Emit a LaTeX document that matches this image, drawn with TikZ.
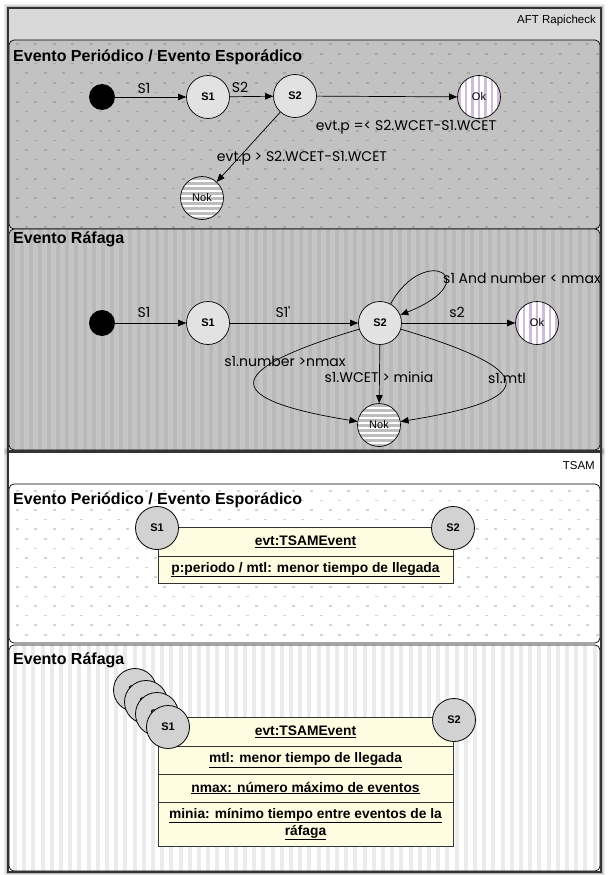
\documentclass[tikz,border=0pt]{standalone}
\usepackage{fontspec}
\setmainfont{Liberation Sans}
\newfontfamily\geofont{Poppins}
\usetikzlibrary{arrows.meta}

\definecolor{headgray}{HTML}{D9D9D9}
\definecolor{panelgray}{HTML}{C2C2C2}
\definecolor{dotdark}{HTML}{A6A6A6}
\definecolor{stripebase}{HTML}{C5C5C5}
\definecolor{stripedark}{HTML}{B9B9B9}
\definecolor{dotlight}{HTML}{D4D4D4}
\definecolor{stripelight}{HTML}{EBEBEB}
\definecolor{statefill}{HTML}{E2E2E2}
\definecolor{tsamfill}{HTML}{D2D2D2}
\definecolor{classfill}{HTML}{FEFDE2}
\definecolor{okstripe}{HTML}{CDBDD8}
\definecolor{nokstripe}{HTML}{BDBDBD}
\definecolor{framedark}{HTML}{333333}

\begin{document}
\begin{tikzpicture}[
  x=1pt, y=-1pt,
  state/.style={circle, draw=black, line width=0.7pt, fill=statefill,
    minimum size=43pt, inner sep=0pt, font=\bfseries\fontsize{11}{13}\selectfont},
  initdot/.style={circle, fill=black, minimum size=26pt, inner sep=0pt},
  endok/.style={state, fill=white, font=\fontsize{11}{13}\selectfont,
    path picture={\foreach \k in {-3,...,3}
      \fill[okstripe] ([xshift=\k*6.5pt-1.2pt]path picture bounding box.north)
        rectangle ([xshift=\k*6.5pt+1.2pt]path picture bounding box.south);}},
  endnok/.style={state, fill=white, font=\fontsize{11}{13}\selectfont,
    path picture={\foreach \k in {-5,...,5}
      \fill[nokstripe] ([yshift=\k*5pt-1.5pt]path picture bounding box.west)
        rectangle ([yshift=\k*5pt+1.5pt]path picture bounding box.east);}},
  trans/.style={draw=black, line width=0.7pt, -{Triangle[length=8pt,width=6.5pt]}},
  edgelbl/.style={inner sep=0pt, font=\geofont\fontsize{14}{16}\selectfont},
  paneltitle/.style={anchor=west, inner sep=0pt, font=\bfseries\fontsize{16}{19}\selectfont},
  bandlbl/.style={anchor=east, inner sep=0pt, font=\fontsize{11.5}{13}\selectfont},
  classrow/.style={draw=framedark, line width=0.8pt, fill=classfill, minimum width=295pt,
    inner sep=0pt, font=\bfseries\fontsize{13.8}{16}\selectfont, align=center},
  tsam/.style={circle, draw=black, line width=0.8pt, fill=tsamfill,
    minimum size=43pt, inner sep=0pt, font=\bfseries\fontsize{11}{13}\selectfont},
  panelbox/.style={draw=black, line width=0.7pt, rounded corners=5pt},
  framebox/.style={draw=framedark, line width=1.1pt}
]
\useasboundingbox (0,0) rectangle (609,875);
\fill[white] (0,0) rectangle (609,875);

% soft shadows of the two outer frames
\foreach \w in {1,...,5} {
  \draw[black, opacity=0.07, line width=\w*1.5pt] (8,8) rectangle (601,451);
  \draw[black, opacity=0.07, line width=\w*1.5pt] (8,452) rectangle (601,872);
}
\fill[headgray] (8,8) rectangle (601,451);
\fill[white] (8,452) rectangle (601,872);

% panel 1: grey with dotted grid
\begin{scope}
  \clip[rounded corners=5pt] (9,40) rectangle (600,229);
  \fill[panelgray] (9,40) rectangle (600,229);
  \foreach \r in {0,...,19} {
    \foreach \c in {0,...,32} {
      \fill[dotdark] ({16+18.4*\c+9.2*mod(\r,2)},{43.5+9.6*\r}) rectangle ++(3,1.6);
    }
  }
\end{scope}
\draw[panelbox] (9,40) rectangle (600,229);

% panel 2: grey with vertical stripes
\begin{scope}
  \clip[rounded corners=5pt] (9,229) rectangle (600,450);
  \fill[stripebase] (9,229) rectangle (600,450);
  \foreach \c in {0,...,66} {
    \fill[stripedark] ({11+9*\c},229) rectangle ++(4,222);
  }
\end{scope}
\draw[panelbox] (9,229) rectangle (600,450);

% panel 3: white with light dotted grid
\begin{scope}
  \clip[rounded corners=5pt] (9,484) rectangle (600,643);
  \fill[white] (9,484) rectangle (600,643);
  \foreach \r in {0,...,16} {
    \foreach \c in {0,...,32} {
      \fill[dotlight] ({16+18.4*\c+9.2*mod(\r,2)},{490+9.6*\r}) rectangle ++(3,1.6);
    }
  }
\end{scope}
\draw[panelbox] (9,484) rectangle (600,643);

% panel 4: white with light vertical stripes
\begin{scope}
  \clip[rounded corners=5pt] (9,645) rectangle (600,871);
  \fill[white] (9,645) rectangle (600,871);
  \foreach \c in {0,...,66} {
    \fill[stripelight] ({13+9.2*\c},645) rectangle ++(4,226);
  }
\end{scope}
\draw[panelbox] (9,645) rectangle (600,871);

% outer frames
\draw[framebox] (8,8) rectangle (601,451);
\draw[framebox] (8,452) rectangle (601,872);

% band and panel titles
\node[bandlbl] (aft) at (596,21) {AFT Rapicheck};
\node[bandlbl] (tsamlbl) at (595,466) {TSAM};
\node[paneltitle] (title1) at (13,57) {Evento Periódico / Evento Esporádico};
\node[paneltitle] (title2) at (13,239) {Evento Ráfaga};
\node[paneltitle] (title3) at (13,500) {Evento Periódico / Evento Esporádico};
\node[paneltitle] (title4) at (13,660) {Evento Ráfaga};

% periodic / sporadic state machine
\node[initdot] (init1) at (102,97) {};
\node[state] (s1a) at (208,97) {S1};
\node[state] (s2a) at (295,96) {S2};
\node[endok] (oka) at (479,97) {Ok};
\node[endnok] (noka) at (202,198) {Nok};
\draw[trans] (init1) -- (s1a);
\draw[trans] (s1a) -- (s2a);
\draw[trans] (s2a) -- (oka);
\draw[trans] (s2a) -- (noka);
\node[edgelbl] (la1) at (144,88) {S1};
\node[edgelbl] (la2) at (240,87) {S2};
\node[edgelbl] (la3) at (406,127) {evt.p =< S2.WCET-S1.WCET};
\node[edgelbl] (la4) at (302,158) {evt.p > S2.WCET-S1.WCET};

% burst state machine
\node[initdot] (init2) at (102,323) {};
\node[state] (s1b) at (208,323) {S1};
\node[state] (s2b) at (380,323) {S2};
\node[endok] (okb) at (537,323) {Ok};
\node[endnok] (nokb) at (379,425) {Nok};
\draw[trans] (init2) -- (s1b);
\draw[trans] (s1b) -- (s2b);
\draw[trans] (s2b) -- (okb);
\draw[trans] (s2b) .. controls (425,242) and (488,280) .. (s2b);
\draw[trans] (s2b) -- (nokb);
\draw[trans] (s2b) .. controls (215,372) and (225,400) .. (nokb);
\draw[trans] (s2b) .. controls (545,372) and (535,400) .. (nokb);
\node[edgelbl] (lb1) at (144,312) {S1};
\node[edgelbl] (lb2) at (283,312) {S1\textquotesingle};
\node[edgelbl] (lb3) at (457,312) {s2};
\node[edgelbl, anchor=west] (lb4) at (443,278) {s1 And number < nmax};
\node[edgelbl] (lb5) at (285,361) {s1.number >nmax};
\node[edgelbl] (lb6) at (379,377) {s1.WCET > minia};
\node[edgelbl] (lb7) at (507,378) {s1.mtl};

% TSAM periodic / sporadic event
\node[classrow, minimum height=29pt] (evc) at (305.5,541.5) {\underline{evt:TSAMEvent}};
\node[classrow, minimum height=27pt] (evp) at (305.5,569.5) {\underline{p:periodo / mtl: menor tiempo de llegada}};
\node[tsam] (ts1) at (157,528) {S1};
\node[tsam] (ts2) at (453,528) {S2};

% TSAM burst event
\node[classrow, minimum height=29pt] (rbc) at (305.5,731.5) {\underline{evt:TSAMEvent}};
\node[classrow, minimum height=28pt] (rbm) at (305.5,760) {\underline{mtl: menor tiempo de llegada}};
\node[classrow, minimum height=28pt] (rbn) at (305.5,788) {\underline{nmax: número máximo de eventos}};
\node[classrow, minimum height=44pt] (rbi) at (305.5,824) {\underline{minia: mínimo tiempo entre eventos de la}\\[1pt]\underline{ráfaga}};
\node[tsam] (tb1) at (135,690) {S1};
\node[tsam] (tb2) at (146,702) {S1};
\node[tsam] (tb3) at (157,714) {S1};
\node[tsam] (tb4) at (168,727) {S1};
\node[tsam] (tb5) at (454,720) {S2};
\end{tikzpicture}
\end{document}
